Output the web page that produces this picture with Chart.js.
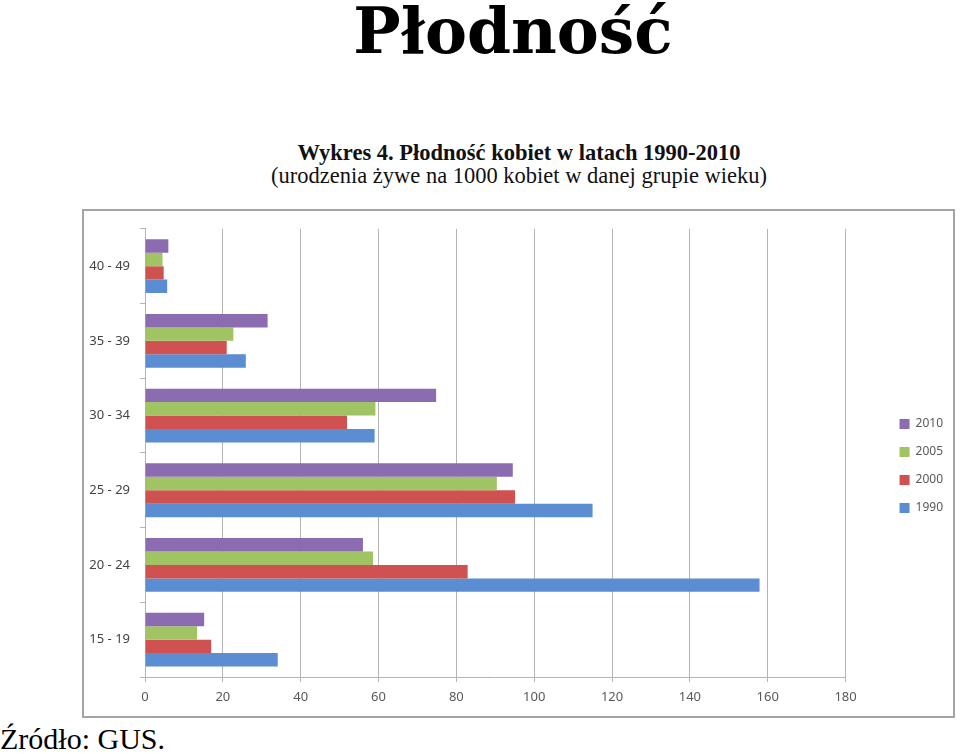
<!DOCTYPE html>
<html lang="pl">
<head>
    <meta charset="UTF-8">
    <title>Płodność</title>
    <script src="https://cdn.jsdelivr.net/npm/chart.js"></script>
    <style>
        html, body { margin: 0; padding: 0; background: #fff; }
        body { width: 960px; height: 754px; position: relative; overflow: hidden; }
        .slide-title { position: absolute; left: 513px; top: 0; transform: translateX(-50%); font: bold 63px/63px 'DejaVu Serif', serif; color: #000; white-space: nowrap; }
        .chart-head { position: absolute; left: 519px; transform: translateX(-50%); font-family: 'Liberation Serif', serif; font-size: 22.5px; line-height: 22.5px; color: #111; white-space: nowrap; }
        .chart-head.bold { top: 142px; font-weight: bold; }
        .chart-head.sub { top: 165px; }
        .frame { position: absolute; left: 82px; top: 209px; width: 873px; height: 509px; box-sizing: border-box; border: 2px solid #a4a4a4; }
        .frame canvas { position: absolute; left: 0; top: 0; }
        .source { position: absolute; left: 0; top: 724px; font: 30px/30px 'Liberation Serif', serif; color: #000; white-space: nowrap; }
    </style>
</head>
<body>
    <div class="slide-title">Płodność</div>
    <div class="chart-head bold">Wykres 4. Płodność kobiet w latach 1990-2010</div>
    <div class="chart-head sub">(urodzenia żywe na 1000 kobiet w danej grupie wieku)</div>

    <div class="frame">
        <canvas id="fertChart" width="869" height="505"></canvas>
    </div>

    <div class="source">Źródło: GUS.</div>

    <script>
    // age groups, top to bottom as in the figure
    const ageGroups = ['40 - 49', '35 - 39', '30 - 34', '25 - 29', '20 - 24', '15 - 19'];

    // births per 1000 women
    const y2010 = [6.0, 31.5, 74.8, 94.5, 56.0, 15.2];
    const y2005 = [4.5, 22.7, 59.2, 90.4, 58.6, 13.4];
    const y2000 = [4.8, 21.0, 51.9, 95.1, 82.9, 17.0];
    const y1990 = [5.7, 25.9, 59.0, 115.0, 157.9, 34.1];

    const axisMin = 0, axisMax = 180, axisStep = 20;

    const tickFont = { family: 'Noto Sans', size: 13 };
    const lineGrey = '#b4b4b4';

    const ctx = document.getElementById('fertChart').getContext('2d');
    new Chart(ctx, {
        type: 'bar',
        data: {
            labels: ageGroups,
            datasets: [
                { label: '2010', data: y2010, backgroundColor: '#8b6cb1' },
                { label: '2005', data: y2005, backgroundColor: '#a0c364' },
                { label: '2000', data: y2000, backgroundColor: '#cf5250' },
                { label: '1990', data: y1990, backgroundColor: '#5b8dd2' }
            ]
        },
        options: {
            indexAxis: 'y',
            responsive: false,
            animation: false,
            categoryPercentage: 0.72,
            barPercentage: 1.0,
            layout: { padding: { top: 16, right: 0, bottom: 11, left: 0 } },
            plugins: {
                title: { display: false },
                tooltip: { enabled: false },
                legend: {
                    position: 'right',
                    align: 'center',
                    labels: {
                        boxWidth: 10,
                        boxHeight: 10,
                        padding: 16,
                        color: '#595959',
                        font: { family: 'Noto Sans', size: 12 }
                    }
                }
            },
            scales: {
                x: {
                    min: axisMin,
                    max: axisMax,
                    ticks: { stepSize: axisStep, color: '#595959', font: tickFont, padding: 7 },
                    grid: { color: lineGrey, lineWidth: 1, tickLength: 5 },
                    border: { color: lineGrey },
                    afterFit: s => { s.height = 28; }
                },
                y: {
                    offset: true,
                    ticks: { color: '#444', font: tickFont, padding: 10 },
                    grid: { offset: true, drawOnChartArea: false, color: lineGrey, tickLength: 5 },
                    border: { color: lineGrey },
                    afterFit: s => { s.width = 61; }
                },
                // empty spacer between plot and legend
                gap: {
                    type: 'linear',
                    position: 'right',
                    ticks: { display: false },
                    grid: { display: false },
                    border: { display: false },
                    afterFit: s => { s.width = 38; }
                }
            }
        }
    });
    </script>
</body>
</html>
